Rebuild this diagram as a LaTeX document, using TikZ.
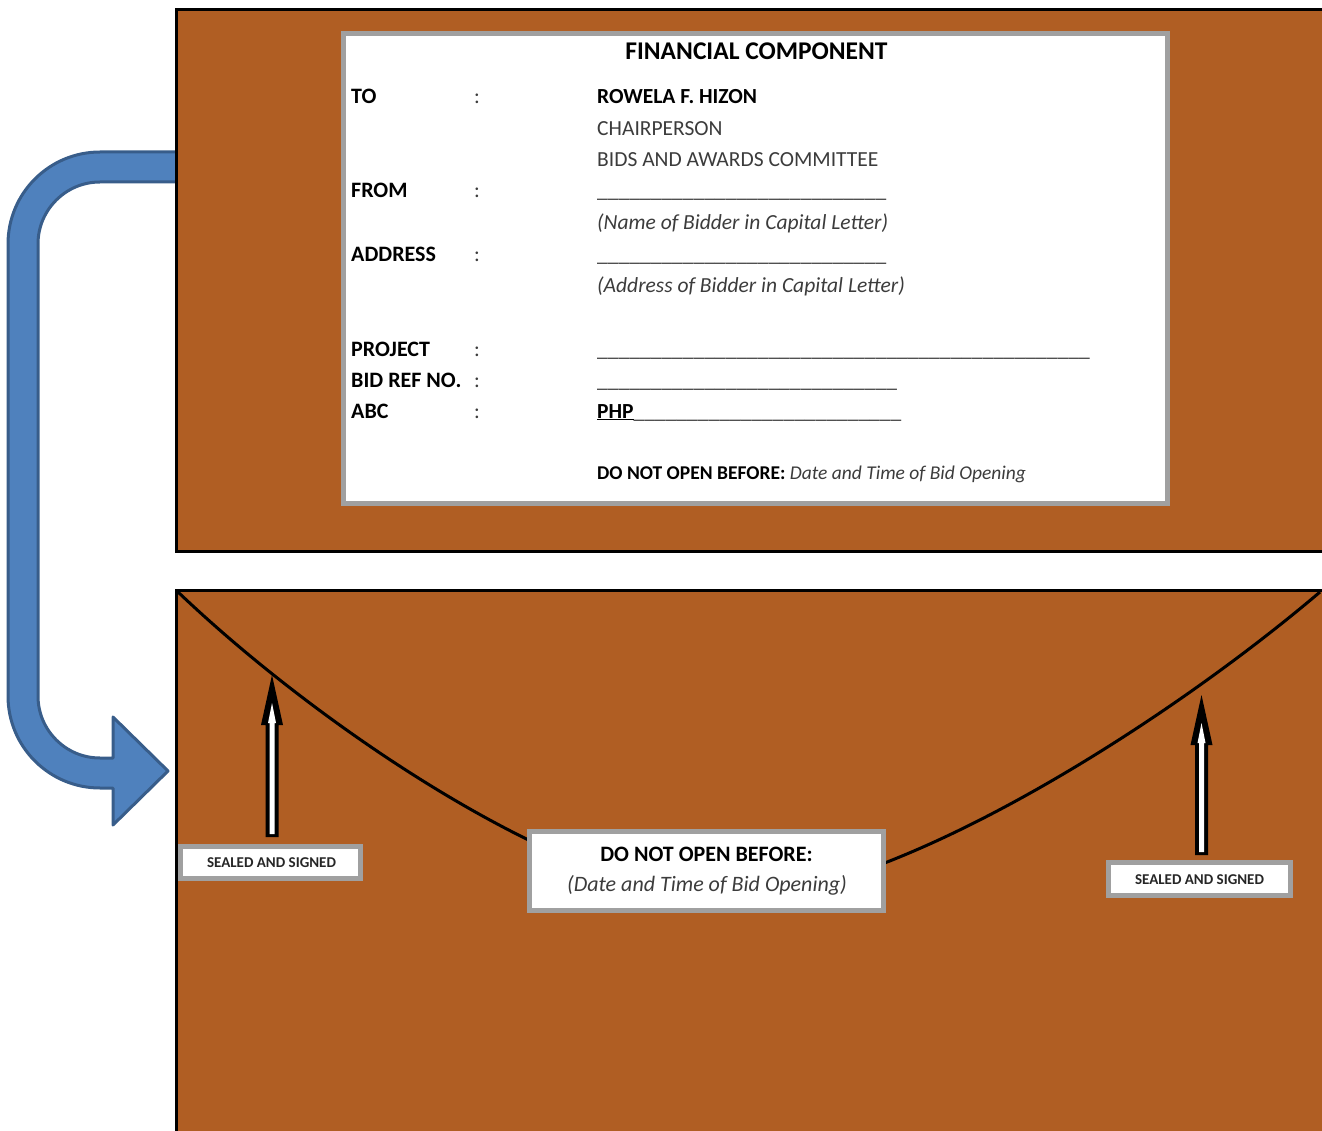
\documentclass[tikz,border=0pt]{standalone}
\usepackage{fontspec}
\setmainfont{Carlito}
\definecolor{envbrown}{RGB}{176,94,35}
\definecolor{cardgray}{RGB}{160,160,160}
\definecolor{bluefill}{RGB}{79,129,189}
\definecolor{blueedge}{RGB}{56,93,138}
\definecolor{txtgray}{RGB}{60,60,60}
\newcommand\Blanks[1]{\foreach \i in {1,...,#1}{\_}}
\newcommand\SealArrow[4]{%
  \fill[black] (#1-6.5,#2) -- (#1-6.5,#4) -- (#1-11,#4) -- (#1,#3) -- (#1+11,#4) -- (#1+6.5,#4) -- (#1+6.5,#2) -- cycle;
  \fill[white] (#1-2.5,#2-3) -- (#1-2.5,#4-2) -- (#1-4,#4-2) -- (#1,#3+28) -- (#1+4,#4-2) -- (#1+2.5,#4-2) -- (#1+2.5,#2-3) -- cycle;
}
\begin{document}
\begin{tikzpicture}[x=1pt,y=-1pt,
  env/.style={fill=envbrown,draw=black,line width=3pt},
  card/.style={draw=cardgray,fill=white,line width=5pt,inner sep=0pt,outer sep=0pt},
  lbl/.style={anchor=base west,inner sep=0pt,font=\fontsize{22}{26}\selectfont\bfseries},
  val/.style={anchor=base west,inner sep=0pt,font=\fontsize{21.5}{26}\selectfont,text=txtgray},
  valb/.style={anchor=base west,inner sep=0pt,font=\fontsize{21.5}{26}\selectfont\bfseries},
  ital/.style={anchor=base west,inner sep=0pt,font=\fontsize{21.5}{26}\selectfont\itshape,text=txtgray},
  line/.style={anchor=base west,inner sep=0pt,font=\fontsize{21.5}{26}\selectfont,text=txtgray},
  seal/.style={anchor=base,inner sep=0pt,font=\fontsize{15}{18}\selectfont\bfseries,text=black!85},
  flap/.style={line width=3pt,draw=black}
]
\useasboundingbox (0,0) rectangle (1322,1131);
\clip (0,0) rectangle (1322,1131);

% blue bent arrow
\draw[fill=bluefill,draw=blueedge,line width=3pt,line join=round]
  (178,152) -- (100,152) arc[start angle=-90,end angle=-180,radius=92]
  -- (8,696) arc[start angle=180,end angle=90,radius=92]
  -- (113,788) -- (113,825) -- (168,771) -- (113,717) -- (113,758) -- (100,758)
  arc[start angle=90,end angle=180,radius=62]
  -- (38,244) arc[start angle=180,end angle=270,radius=62]
  -- (178,182) -- cycle;

% envelopes
\draw[env] (176,10) rectangle (1335,551);
\draw[env] (176,590) rectangle (1335,1145);

% flap curve
\coordinate (flapL) at (178,592);
\coordinate (flapB) at (728,899);
\coordinate (flapR) at (1320,592);
\draw[flap] (flapL) .. controls (328,735) and (578,899) .. (flapB)
                    .. controls (888,899) and (1160,728) .. (flapR);

% card
\node[card,minimum width=824pt,minimum height=470pt] (card) at (755.5,268.5) {};
\node[anchor=base,inner sep=0pt,font=\fontsize{25.5}{30}\selectfont\bfseries] (title) at (756.5,60) {FINANCIAL COMPONENT};

\node[lbl] (to) at (351,104) {TO};
\node[lbl] (from) at (351,198) {FROM};
\node[lbl] (addr) at (351,262) {ADDRESS};
\node[lbl] (proj) at (351,356) {PROJECT};
\node[lbl] (bidref) at (351,387) {BID REF NO.};
\node[lbl] (abc) at (351,418) {ABC};
\foreach \yy/\nm in {104/c1,198/c2,262/c3,356/c4,387/c5,418/c6}
  \node[anchor=base west,inner sep=0pt,font=\fontsize{21.5}{26}\selectfont,text=txtgray] (\nm) at (474,\yy) {:};

\node[valb] (name) at (597,104) {ROWELA F. HIZON};
\node[val] (chair) at (597,136) {CHAIRPERSON};
\node[val] (bac) at (597,167) {BIDS AND AWARDS COMMITTEE};
\node[line] (fromline) at (597,198) {\Blanks{27}};
\node[ital] (namehint) at (597,230) {(Name of Bidder in Capital Letter)};
\node[line] (addrline) at (597,262) {\Blanks{27}};
\node[ital] (addrhint) at (597,293) {(Address of Bidder in Capital Letter)};
\node[line] (projline) at (597,356) {\Blanks{46}};
\node[line] (bidline) at (597,387) {\Blanks{28}};
\node[line] (abcline) at (597,418) {\textcolor{black}{\bfseries\underline{PHP}}\Blanks{25}};
\node[anchor=base west,inner sep=0pt,font=\fontsize{19.5}{24}\selectfont] (dnob) at (597,479) {\textbf{DO NOT OPEN BEFORE:} \textcolor{txtgray}{\itshape Date and Time of Bid Opening}};

% sealed arrows
\SealArrow{272}{837}{675}{725}
\SealArrow{1201.5}{855}{695}{745}

% labels on bottom envelope
\node[card,minimum width=180pt,minimum height=32pt] (sealL) at (270.5,862.5) {};
\node[seal] (sealLt) at (271.5,867) {SEALED AND SIGNED};
\node[card,minimum width=182pt,minimum height=33pt] (sealR) at (1199.5,879) {};
\node[seal] (sealRt) at (1199.5,884.5) {SEALED AND SIGNED};

\node[card,minimum width=354pt,minimum height=79pt] (dnobox) at (706.5,871) {};
\node[anchor=base,inner sep=0pt,font=\fontsize{22}{26}\selectfont\bfseries] (dnot1) at (706.5,861) {DO NOT OPEN BEFORE:};
\node[anchor=base,inner sep=0pt,font=\fontsize{22}{26}\selectfont\itshape,text=txtgray] (dnot2) at (707,891) {(Date and Time of Bid Opening)};
\end{tikzpicture}
\end{document}
